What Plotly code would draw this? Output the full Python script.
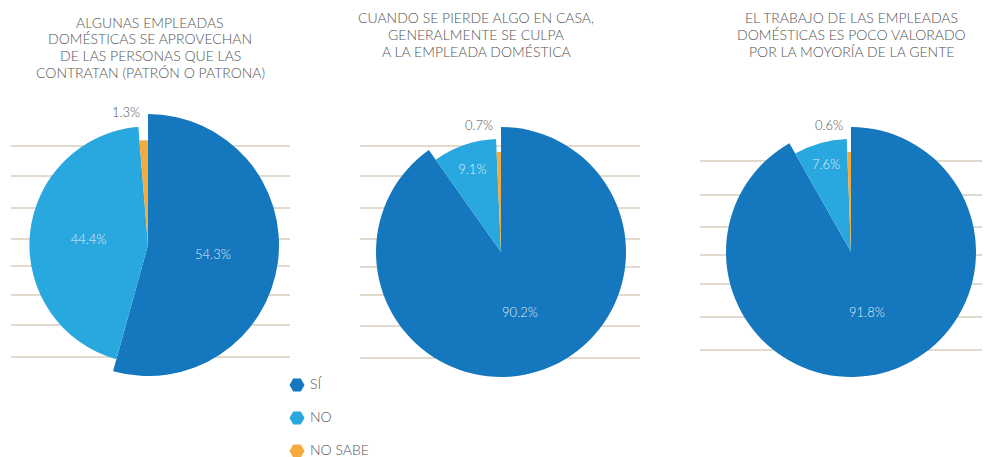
import plotly.graph_objects as go

# ---------------------------------------------------------------------------
# Data
# ---------------------------------------------------------------------------
categories = ["SÍ", "NO", "NO SABE"]

titles = [
    ["ALGUNAS EMPLEADAS", "DOMÉSTICAS SE APROVECHAN",
     "DE LAS PERSONAS QUE LAS", "CONTRATAN (PATRÓN O PATRONA)"],
    ["CUANDO SE PIERDE ALGO EN CASA,", "GENERALMENTE SE CULPA",
     "A LA EMPLEADA DOMÉSTICA"],
    ["EL TRABAJO DE LAS EMPLEADAS", "DOMÉSTICAS ES POCO VALORADO",
     "POR LA MOYORÍA DE LA GENTE"],
]

aprovechan = [54.3, 44.4, 1.3]
culpa = [90.2, 9.1, 0.7]
poco_valorado = [91.8, 7.6, 0.6]

# ---------------------------------------------------------------------------
# Styling / layout (pixels in a 984x457 canvas)
# ---------------------------------------------------------------------------
W, H = 984, 457
COLORS = ["#1577bd", "#29a8e0", "#f5aa3c"]
RADIUS_SCALE = [1.0, 0.905, 0.80]      # slice radius relative to the "SÍ" slice
FONT = "Lato, Open Sans, sans-serif"
TEXT_GREY = "#555555"
RULE_COLOR = "#d8cebd"
LINE_STEP = 16.7

# (centre x, centre y, radius) per pie, plus title centre x and first-line y
PIES = [(148, 245, 131), (501, 252, 125), (851, 252, 125)]
TITLE_POS = [(150, 22), (476, 18), (851, 18)]
# decorative rules behind each pie: (x0, x1, list of y)
RULES = [
    (11, 290, [146, 176, 208, 239, 266, 295, 325, 357]),
    (360, 640, [146, 176, 208, 239, 267, 295, 326, 358]),
    (700, 982, [161, 195, 227, 255, 284, 317, 350]),
]

datasets = [aprovechan, culpa, poco_valorado]

fig = go.Figure()
shapes = []
annotations = []

for (cx, cy, r), values, lines, (tx, ty), (rx0, rx1, rys) in zip(
        PIES, datasets, titles, TITLE_POS, RULES):
    for y in rys:
        shapes.append(dict(type="line", xref="paper", yref="paper",
                           x0=rx0 / W, x1=rx1 / W, y0=1 - y / H, y1=1 - y / H,
                           line=dict(color=RULE_COLOR, width=1.5), layer="below"))

    # one pie layer per category so each slice can have its own radius
    for k in range(len(categories)):
        rk = r * RADIUS_SCALE[k]
        colors = [COLORS[i] if i == k else "rgba(0,0,0,0)" for i in range(len(categories))]
        text = [f"{v:.1f}%" if (i == k and k < 2) else "" for i, v in enumerate(values)]
        fig.add_trace(go.Pie(
            labels=categories, values=values, sort=False,
            direction="clockwise", rotation=0,
            marker=dict(colors=colors, line=dict(width=0)),
            text=text, textinfo="text", textposition="inside",
            insidetextorientation="horizontal",
            insidetextfont=dict(family=FONT, size=13, weight=300,
                                color="rgba(235,244,250,0.95)"),
            domain=dict(x=[(cx - rk) / W, (cx + rk) / W],
                        y=[1 - (cy + rk) / H, 1 - (cy - rk) / H]),
            showlegend=False, hoverinfo="label+percent",
        ))

    # small "NO SABE" value label sits outside, to the left of the top gap
    annotations.append(dict(
        x=(cx - 22) / W, y=1 - (cy - r - 2) / H, xref="paper", yref="paper",
        text=f"{values[2]:.1f}%", showarrow=False, xanchor="center", yanchor="middle",
        font=dict(family=FONT, size=13, weight=300, color=TEXT_GREY)))

    for j, line in enumerate(lines):
        annotations.append(dict(
            x=tx / W, y=1 - (ty + j * LINE_STEP) / H, xref="paper", yref="paper",
            text=line, showarrow=False, xanchor="center", yanchor="middle",
            font=dict(family=FONT, size=14, color=TEXT_GREY, weight=300)))

# custom legend with hexagon markers
legend_y = [385, 418, 451]
fig.add_trace(go.Scatter(
    x=[297] * 3, y=legend_y, mode="markers",
    marker=dict(symbol="hexagon2", size=15, color=COLORS),
    showlegend=False, hoverinfo="skip", xaxis="x", yaxis="y"))
fig.add_trace(go.Scatter(
    x=[310] * 3, y=legend_y, mode="text", text=categories,
    textposition="middle right",
    textfont=dict(family=FONT, size=14, weight=300, color=TEXT_GREY),
    showlegend=False, hoverinfo="skip", xaxis="x", yaxis="y"))

fig.update_layout(
    width=W, height=H,
    margin=dict(l=0, r=0, t=0, b=0),
    paper_bgcolor="white", plot_bgcolor="rgba(0,0,0,0)",
    xaxis=dict(range=[0, W], visible=False, fixedrange=True, domain=[0, 1]),
    yaxis=dict(range=[H, 0], visible=False, fixedrange=True, domain=[0, 1]),
    shapes=shapes, annotations=annotations,
    showlegend=False,
)

# drop the default page margin so the figure fills the window exactly
fig.write_html("out.html", config={"displayModeBar": False},
               post_script="document.body.style.margin='0';")
